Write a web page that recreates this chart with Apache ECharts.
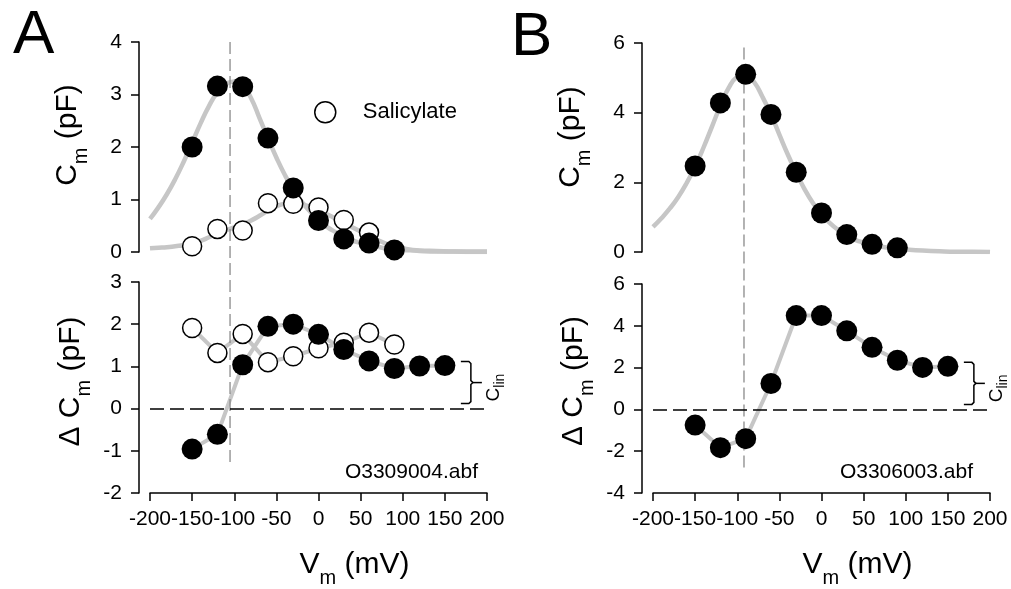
<!DOCTYPE html>
<html>
<head>
<meta charset="utf-8">
<script src="https://cdn.jsdelivr.net/npm/echarts@6/dist/echarts.min.js"></script>
<style>
  html, body { margin: 0; padding: 0; background: #fff; }
  #chart { width: 1011px; height: 589px; }
</style>
</head>
<body>
<div id="chart"></div>
<script>
// Holding potentials of the measured points (mV)
const vSteps = [-150, -120, -90, -60, -30, 0, 30, 60, 90, 120, 150];
// Voltages at which the fitted curves are sampled (mV)
const fitV = [-200, -190, -180, -170, -160, -150, -140, -130, -120, -110, -100, -90, -80, -70, -60,
  -50, -40, -30, -20, -10, 0, 10, 20, 30, 40, 50, 60, 70, 80, 90, 100, 120, 140, 160, 180, 200];

// Cell A: nonlinear capacitance, control and salicylate
const cmCtrlA = [2.0, 3.16, 3.15, 2.17, 1.22, 0.6, 0.25, 0.17, 0.04];
const cmSalA = [0.11, 0.44, 0.41, 0.93, 0.92, 0.85, 0.61, 0.37];
const fitCtrlA = [0.63, 0.85, 1.1, 1.39, 1.72, 2.08, 2.45, 2.78, 3.04, 3.2, 3.25, 3.17, 2.93, 2.55, 2.17,
  1.8, 1.47, 1.19, 0.96, 0.77, 0.61, 0.48, 0.38, 0.29, 0.22, 0.17, 0.13, 0.1, 0.07, 0.05, 0.04, 0.02, 0.01, 0.01, 0, 0];
const fitSalA = [0.07, 0.08, 0.09, 0.11, 0.13, 0.16, 0.21, 0.28, 0.35, 0.41, 0.47, 0.53, 0.6, 0.69, 0.79,
  0.87, 0.92, 0.93, 0.91, 0.86, 0.8, 0.72, 0.64, 0.56, 0.47, 0.39, 0.31, 0.23, 0.16, 0.11, 0.07, 0.03, 0.02, 0.01, 0.01, 0.01];
// Cell A: capacitance change
const dCmCtrlA = [-0.96, -0.61, 1.04, 1.95, 2.0, 1.76, 1.4, 1.13, 0.95, 1.01, 1.02];
const dCmSalA = [1.91, 1.32, 1.77, 1.1, 1.24, 1.43, 1.56, 1.8, 1.52];
const vPeakA = -105;
const markerSpanA = [4, -4.02];   // dashed marker extent in Cm units of the upper axis

// Cell B
const cmB = [2.47, 4.28, 5.1, 3.95, 2.29, 1.12, 0.5, 0.22, 0.12];
const fitB = [0.72, 0.97, 1.25, 1.58, 1.98, 2.45, 3.0, 3.6, 4.2, 4.72, 5.03, 5.1, 4.88, 4.45, 3.95,
  3.37, 2.8, 2.28, 1.8, 1.4, 1.08, 0.83, 0.63, 0.47, 0.35, 0.27, 0.21, 0.16, 0.12, 0.09, 0.07, 0.04, 0.02, 0.01, 0.01, 0];
const dCmB = [-0.75, -1.83, -1.4, 1.24, 4.49, 4.49, 3.76, 2.97, 2.35, 2.01, 2.06];
const vPeakB = -92;
const markerSpanB = [5.87, -6.29];

// Tick values
const vTicks = [-200, -150, -100, -50, 0, 50, 100, 150, 200];
const cmTicksA = [0, 1, 2, 3, 4];
const dCmTicksA = [-2, -1, 0, 1, 2, 3];
const cmTicksB = [0, 2, 4, 6];
const dCmTicksB = [-4, -2, 0, 2, 4, 6];

const FONT = 'Liberation Sans, Arial, sans-serif';
const GREY = '#c6c6c6';
const pts = (xs, ys) => ys.map((y, i) => [xs[i], y]);

const chart = echarts.init(document.getElementById('chart'), null, { renderer: 'canvas' });

const titleRich = {
  v: { fontSize: 30, lineHeight: 47, fontFamily: FONT, color: '#000' },
  s: { fontSize: 20, lineHeight: 20, fontFamily: FONT, color: '#000', verticalAlign: 'bottom' }
};

function xAxisFor(grid, visible) {
  return {
    type: 'value', gridIndex: grid, min: vTicks[0], max: vTicks[vTicks.length - 1],
    interval: vTicks[1] - vTicks[0], show: visible,
    axisLine: { onZero: false, lineStyle: { color: '#000', width: 1.5 } },
    axisTick: { length: 8, lineStyle: { color: '#000', width: 1.5 } },
    axisLabel: { fontSize: 21, fontFamily: FONT, color: '#000', margin: 16,
                 showMinLabel: true, showMaxLabel: true, hideOverlap: false },
    splitLine: { show: false },
    name: visible ? '{v|V}{s|m}{v| (mV)}' : '',
    nameLocation: 'middle', nameGap: 48,
    nameTextStyle: { rich: titleRich, padding: [0, 0, 0, 72] }
  };
}

function yAxisFor(grid, ticks, name, gap, shift) {
  return {
    type: 'value', gridIndex: grid, min: ticks[0], max: ticks[ticks.length - 1],
    interval: ticks[1] - ticks[0], offset: 11,
    axisLine: { show: true, onZero: false, lineStyle: { color: '#000', width: 1.5 } },
    axisTick: { show: true, length: 8, lineStyle: { color: '#000', width: 1.5 } },
    axisLabel: { fontSize: 21, fontFamily: FONT, color: '#000', margin: 17,
                 showMinLabel: true, showMaxLabel: true, hideOverlap: false },
    splitLine: { show: false },
    name: name, nameLocation: 'middle', nameGap: gap,
    nameTextStyle: { rich: titleRich, padding: [0, 0, 0, shift] }
  };
}

function fitLine(xi, ys) {
  return {
    type: 'line', xAxisIndex: xi, yAxisIndex: xi, data: pts(fitV, ys), smooth: 0.5,
    showSymbol: false, silent: true, z: 1,
    lineStyle: { color: GREY, width: 4.5 }
  };
}

function joinLine(xi, ys) {
  return {
    type: 'line', xAxisIndex: xi, yAxisIndex: xi, data: pts(vSteps, ys),
    showSymbol: false, silent: true, z: 1,
    lineStyle: { color: GREY, width: 4 }
  };
}

function dots(xi, ys, name, filled) {
  return {
    type: 'scatter', name: name, xAxisIndex: xi, yAxisIndex: xi, data: pts(vSteps, ys),
    symbol: 'circle', symbolSize: filled ? 21 : 19, z: filled ? 4 : 3,
    itemStyle: filled ? { color: '#000', opacity: 1 }
                      : { color: '#fff', borderColor: '#000', borderWidth: 1.5, opacity: 1 }
  };
}

function peakMarker(xi, v, span) {
  return {
    type: 'line', xAxisIndex: xi, yAxisIndex: xi, data: [[v, span[0]], [v, span[1]]],
    clip: false, showSymbol: false, silent: true, z: 2,
    lineStyle: { color: '#8a8a8a', width: 1.3, type: [12, 5] }
  };
}

function zeroLine(xi) {
  return {
    type: 'line', xAxisIndex: xi, yAxisIndex: xi, data: [], silent: true, z: 2,
    markLine: {
      silent: true, symbol: 'none', label: { show: false }, animation: false,
      lineStyle: { color: '#000', width: 1.5, type: [14, 6] },
      data: [{ yAxis: 0 }]
    }
  };
}

// Bracket marking the linear capacitance between zero and the last ΔCm value
function clinBracket(xi, ys) {
  const last = ys.length - 1;
  return {
    type: 'custom', xAxisIndex: xi, yAxisIndex: xi, silent: true, z: 5, clip: false,
    data: [[vSteps[last], ys[last]]],
    renderItem: (params, api) => {
      const p = api.coord([api.value(0), api.value(1)]);
      const base = api.coord([api.value(0), 0]);
      const xa = p[0] + 16, xb = p[0] + 26, xc = p[0] + 37;
      const ya = p[1] - 4, yb = base[1] - 5, ym = (ya + yb) / 2;
      return {
        type: 'group',
        children: [
          { type: 'polyline', shape: { points: [[xa, ya], [xb - 2, ya], [xb, ya + 2], [xb, ym - 2], [xb + 2, ym], [xb, ym + 2], [xb, yb - 2], [xb - 2, yb], [xa, yb]] },
            style: { stroke: '#000', lineWidth: 1.5, fill: null } },
          { type: 'line', shape: { x1: xb + 2, y1: ym, x2: xc, y2: ym }, style: { stroke: '#000', lineWidth: 1.5 } },
          { type: 'text', x: p[0] + 49, y: ym + 5, rotation: Math.PI / 2,
            style: {
              text: '{c|C}{s|lin}', align: 'center', verticalAlign: 'middle',
              rich: {
                c: { fontSize: 19, lineHeight: 26, fontFamily: FONT, fill: '#000' },
                s: { fontSize: 14, lineHeight: 14, fontFamily: FONT, fill: '#000', verticalAlign: 'bottom' }
              }
            } }
        ]
      };
    }
  };
}

const option = {
  animation: false,
  backgroundColor: '#fff',
  textStyle: { fontFamily: FONT },
  grid: [
    { left: 150, top: 42, width: 337, height: 210 },
    { left: 150, top: 282, width: 337, height: 212 },
    { left: 653, top: 43, width: 337, height: 209 },
    { left: 653, top: 284, width: 337, height: 210 }
  ],
  xAxis: [xAxisFor(0, false), xAxisFor(1, true), xAxisFor(2, false), xAxisFor(3, true)],
  yAxis: [
    yAxisFor(0, cmTicksA, '{v|C}{s|m}{v| (pF)}', 48, 24),
    yAxisFor(1, dCmTicksA, '{v|Δ C}{s|m}{v| (pF)}', 45, 12),
    yAxisFor(2, cmTicksB, '{v|C}{s|m}{v| (pF)}', 48, 21),
    yAxisFor(3, dCmTicksB, '{v|Δ C}{s|m}{v| (pF)}', 45, 15)
  ],
  legend: {
    data: ['Salicylate'], left: 314, top: 101, padding: 0, icon: 'circle',
    itemWidth: 21, itemHeight: 21, selectedMode: false,
    itemStyle: { color: '#fff', borderColor: '#000', borderWidth: 1.5 },
    textStyle: { fontSize: 22, fontFamily: FONT, color: '#000', padding: [0, 0, 0, 22] }
  },
  graphic: [
    { type: 'text', x: 13, y: 36, style: { text: 'A', font: '62px ' + FONT, fill: '#000', verticalAlign: 'middle' } },
    { type: 'text', x: 511, y: 38, style: { text: 'B', font: '62px ' + FONT, fill: '#000', verticalAlign: 'middle' } },
    { type: 'text', x: 478, y: 472, style: { text: 'O3309004.abf', font: '21px ' + FONT, fill: '#000', align: 'right', verticalAlign: 'middle' } },
    { type: 'text', x: 973, y: 472, style: { text: 'O3306003.abf', font: '21px ' + FONT, fill: '#000', align: 'right', verticalAlign: 'middle' } }
  ],
  series: [
    // Panel A, upper: Cm with fitted curves
    fitLine(0, fitCtrlA),
    fitLine(0, fitSalA),
    peakMarker(0, vPeakA, markerSpanA),
    dots(0, cmSalA, 'Salicylate', false),
    dots(0, cmCtrlA, 'Control', true),
    // Panel A, lower: ΔCm
    zeroLine(1),
    joinLine(1, dCmCtrlA),
    joinLine(1, dCmSalA),
    dots(1, dCmSalA, 'Salicylate', false),
    dots(1, dCmCtrlA, 'Control', true),
    clinBracket(1, dCmCtrlA),
    // Panel B, upper
    fitLine(2, fitB),
    peakMarker(2, vPeakB, markerSpanB),
    dots(2, cmB, 'Control', true),
    // Panel B, lower
    zeroLine(3),
    joinLine(3, dCmB),
    dots(3, dCmB, 'Control', true),
    clinBracket(3, dCmB)
  ]
};

chart.setOption(option);
</script>
</body>
</html>
